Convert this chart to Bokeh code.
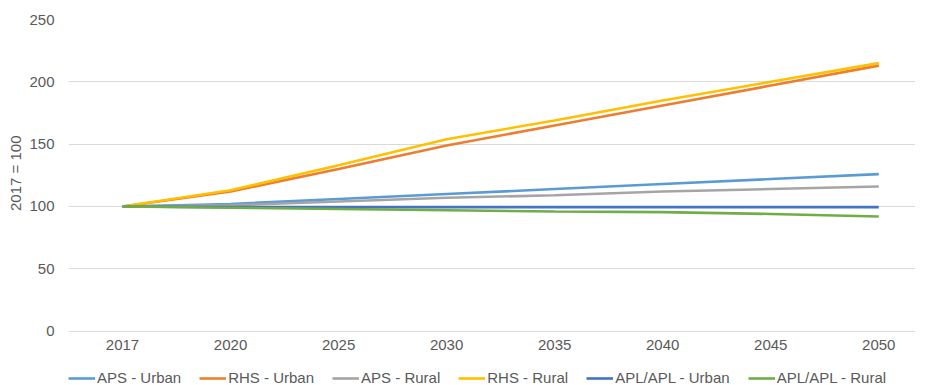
from bokeh.plotting import figure
from bokeh.models import Legend, LegendItem, FixedTicker, Range1d, Title
from bokeh.embed import file_html
from bokeh.resources import INLINE

years = ["2017", "2020", "2025", "2030", "2035", "2040", "2045", "2050"]
aps_urban = [100, 102, 106, 110, 114, 118, 122, 126]
rhs_urban = [100, 112, 130, 149, 165, 181, 197, 213]
aps_rural = [100, 101, 104, 107, 109, 112, 114, 116]
rhs_rural = [100, 113, 133, 154, 169, 185, 200, 215]
apl_urban = [100, 99.5, 99.5, 99.5, 99.5, 99.5, 99.5, 99.5]
apl_rural = [100, 99, 98, 97, 96, 95.5, 94, 92]
y_ticks = [0, 50, 100, 150, 200, 250]

series = [
    ("APS - Urban", aps_urban, "#5B9BD5"),
    ("RHS - Urban", rhs_urban, "#ED7D31"),
    ("APS - Rural", aps_rural, "#A5A5A5"),
    ("RHS - Rural", rhs_rural, "#FFC000"),
    ("APL/APL - Urban", apl_urban, "#4472C4"),
    ("APL/APL - Rural", apl_rural, "#70AD47"),
]

FONT = "Liberation Sans"
xs = list(range(len(years)))

p = figure(frame_width=847, frame_height=369, output_backend="svg", toolbar_location=None,
           x_range=Range1d(-0.5, 7.34), y_range=Range1d(-46, 250),
           min_border_left=68, min_border_top=19, min_border_right=0, min_border_bottom=0)
p.outline_line_color = None
p.background_fill_color = "white"
p.border_fill_color = "white"

items = []
for name, vals, col in series:
    r = p.line(xs, vals, line_color=col, line_width=2.6)
    items.append(LegendItem(label=name, renderers=[r]))

p.xaxis.ticker = FixedTicker(ticks=xs)
p.xaxis.major_label_overrides = {i: y for i, y in enumerate(years)}
p.xaxis.fixed_location = 0
p.yaxis.ticker = FixedTicker(ticks=y_ticks)
for ax in (p.xaxis, p.yaxis):
    ax.axis_line_color = None
    ax.major_tick_line_color = None
    ax.minor_tick_line_color = None
    ax.major_tick_out = 0
    ax.major_tick_in = 0
    ax.major_label_text_font = FONT
    ax.major_label_text_font_size = "15px"
    ax.major_label_text_color = "#595959"
p.xaxis.major_label_standoff = 9
p.yaxis.major_label_standoff = 14

ylab = Title(text="2017 = 100", align="right", offset=116, standoff=6,
             text_font=FONT, text_font_size="15px", text_font_style="normal",
             text_color="#595959")
p.add_layout(ylab, "left")

p.xgrid.grid_line_color = None
p.ygrid.grid_line_color = "#D9D9D9"
p.ygrid.grid_line_width = 1

legend = Legend(items=items, orientation="horizontal", location=(0, 2),
                label_text_font=FONT, label_text_font_size="15px", label_text_color="#595959",
                glyph_width=27, glyph_height=12, label_height=12, label_standoff=2,
                spacing=18, padding=0, margin=0, border_line_color=None,
                background_fill_alpha=0)
p.add_layout(legend, "center")

open("out.html", "w").write(file_html(p, INLINE))
